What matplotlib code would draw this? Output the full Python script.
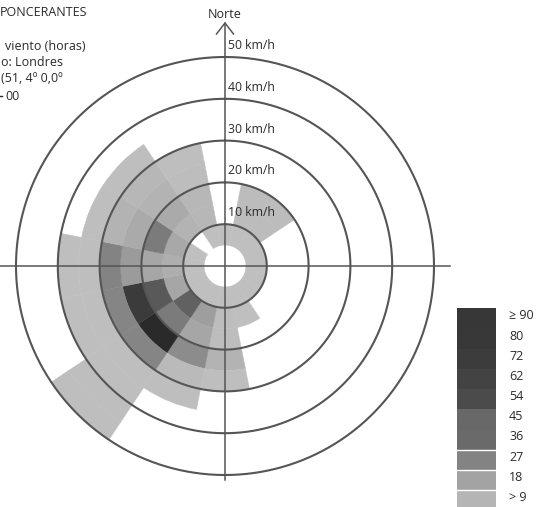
import numpy as np
import matplotlib
matplotlib.use('Agg')
import matplotlib.pyplot as plt
from matplotlib.patches import Rectangle

plt.rcParams['font.family'] = ['Open Sans', 'DejaVu Sans']

# direcciones (16 rumbos, desde el norte en sentido horario)
direcciones = ['N', 'NNE', 'NE', 'ENE', 'E', 'ESE', 'SE', 'SSE',
               'S', 'SSO', 'SO', 'OSO', 'O', 'ONO', 'NO', 'NNO']
# horas por intervalo de velocidad (km/h), un valor por direccion
h_05_10 = [3, 3, 3, 3, 3, 3, 3, 3, 3, 3, 3, 3, 3, 3, 0, 3]
h_10_15 = [0, 6, 6, 0, 0, 0, 0, 3, 5, 20, 45, 18, 14, 17, 12, 10]
h_15_20 = [0, 6, 6, 0, 0, 0, 0, 0, 5, 18, 32, 49, 18, 32, 16, 10]
h_20_25 = [0, 0, 0, 0, 0, 0, 0, 0, 12, 25, 95, 75, 21, 16, 12, 5]
h_25_30 = [0, 0, 0, 0, 0, 0, 0, 0, 4, 8, 27, 27, 28, 12, 10, 4]
h_30_35 = [0, 0, 0, 0, 0, 0, 0, 0, 0, 4, 4, 4, 4, 4, 4, 0]
h_35_40 = [0, 0, 0, 0, 0, 0, 0, 0, 0, 0, 4, 4, 4, 0, 0, 0]
h_40_45 = [0, 0, 0, 0, 0, 0, 0, 0, 0, 0, 4, 0, 0, 0, 0, 0]
h_45_50 = [0, 0, 0, 0, 0, 0, 0, 0, 0, 0, 4, 0, 0, 0, 0, 0]
vel_inicio = [5, 10, 15, 20, 25, 30, 35, 40, 45]
anillos = [10, 20, 30, 40, 50]

# leyenda
ley_etiquetas = ['\u2265 90', '80', '72', '62', '54', '45', '36', '27', '18', '> 9']
ley_colores = ['#373737', '#383838', '#3c3c3c', '#434343', '#4b4b4b',
               '#686868', '#6a6a6a', '#838383', '#a3a3a3', '#b5b5b5']

# horas -> gris
h_ref = [0, 9, 18, 27, 40, 54, 72, 100]
g_ref = [0.76, 0.725, 0.65, 0.52, 0.42, 0.31, 0.24, 0.15]


def gris(h):
    g = float(np.interp(h, h_ref, g_ref))
    return (g, g, g)


W, H = 550, 507
fig = plt.figure(figsize=(W / 100, H / 100), dpi=100)
cx, cy, R = 225, 266, 209
ax = fig.add_axes([(cx - R) / W, (H - cy - R) / H, 2 * R / W, 2 * R / H],
                  projection='polar')
ax.set_theta_zero_location('N')
ax.set_theta_direction(-1)
ax.set_ylim(0, 50)
ax.grid(False)
ax.set_xticks([])
ax.set_yticks([])
ax.spines['polar'].set_visible(False)
ax.patch.set_alpha(0)

theta = np.deg2rad(np.arange(16) * 22.5)
ancho = np.deg2rad(22.5)
filas = [h_05_10, h_10_15, h_15_20, h_20_25, h_25_30,
         h_30_35, h_35_40, h_40_45, h_45_50]
for v0, fila in zip(vel_inicio, filas):
    for t, h in zip(theta, fila):
        if h > 0:
            c = gris(h)
            ax.bar(t, 5, width=ancho, bottom=v0, color=c, edgecolor=c,
                   linewidth=0.3, zorder=1)

tt = np.linspace(0, 2 * np.pi, 720)
for r in anillos:
    ax.plot(tt, np.full_like(tt, r), color='#555555', lw=1.5, zorder=3,
            clip_on=False)

# capa superior en pixeles
ov = fig.add_axes([0, 0, 1, 1])
ov.set_xlim(0, W)
ov.set_ylim(H, 0)
ov.axis('off')
ov.patch.set_alpha(0)
ov.plot([0, 450], [cy, cy], color='#555555', lw=1.1)
ov.plot([cx, cx], [23, 480], color='#555555', lw=1.1)
ov.plot([cx - 8.5, cx, cx + 8.5], [34, 23, 34], color='#555555', lw=1.1)
ov.text(cx, 15, 'Norte', ha='center', va='center', fontsize=9, color='#2a2a2a')

for r in anillos:
    ypix = cy - r * R / 50 - 5
    ov.text(cx + 3, ypix, f'{r} km/h', ha='left', va='bottom',
            fontsize=8.8, color='#2a2a2a')

# textos de cabecera (recortados en el original)
cab = [(0, 13, 'PONCERANTES'), (5, 46, 'viento (horas)'), (1, 62, 'o: Londres'),
       (1, 79, '(51, 4\u00ba 0,0\u00ba'), (5, 96, '00')]
for x, y, s in cab:
    ov.text(x, y, s, ha='left', va='center', fontsize=9, color='#2a2a2a')
ov.plot([0, 2], [96, 96], color='#2a2a2a', lw=1)

y0 = 308.3
for i, (lab, col) in enumerate(zip(ley_etiquetas, ley_colores)):
    ov.add_patch(Rectangle((457, y0 + i * 20.2), 39, 20.2, facecolor=col,
                           edgecolor='none'))
    ov.text(509, y0 + i * 20.2 + 7.5, lab, ha='left', va='center',
            fontsize=9, color='#2a2a2a')
for i in [7, 8, 9]:
    ov.plot([457, 496], [y0 + i * 20.2, y0 + i * 20.2], color='white', lw=1)

fig.savefig('out.png', dpi=100)
